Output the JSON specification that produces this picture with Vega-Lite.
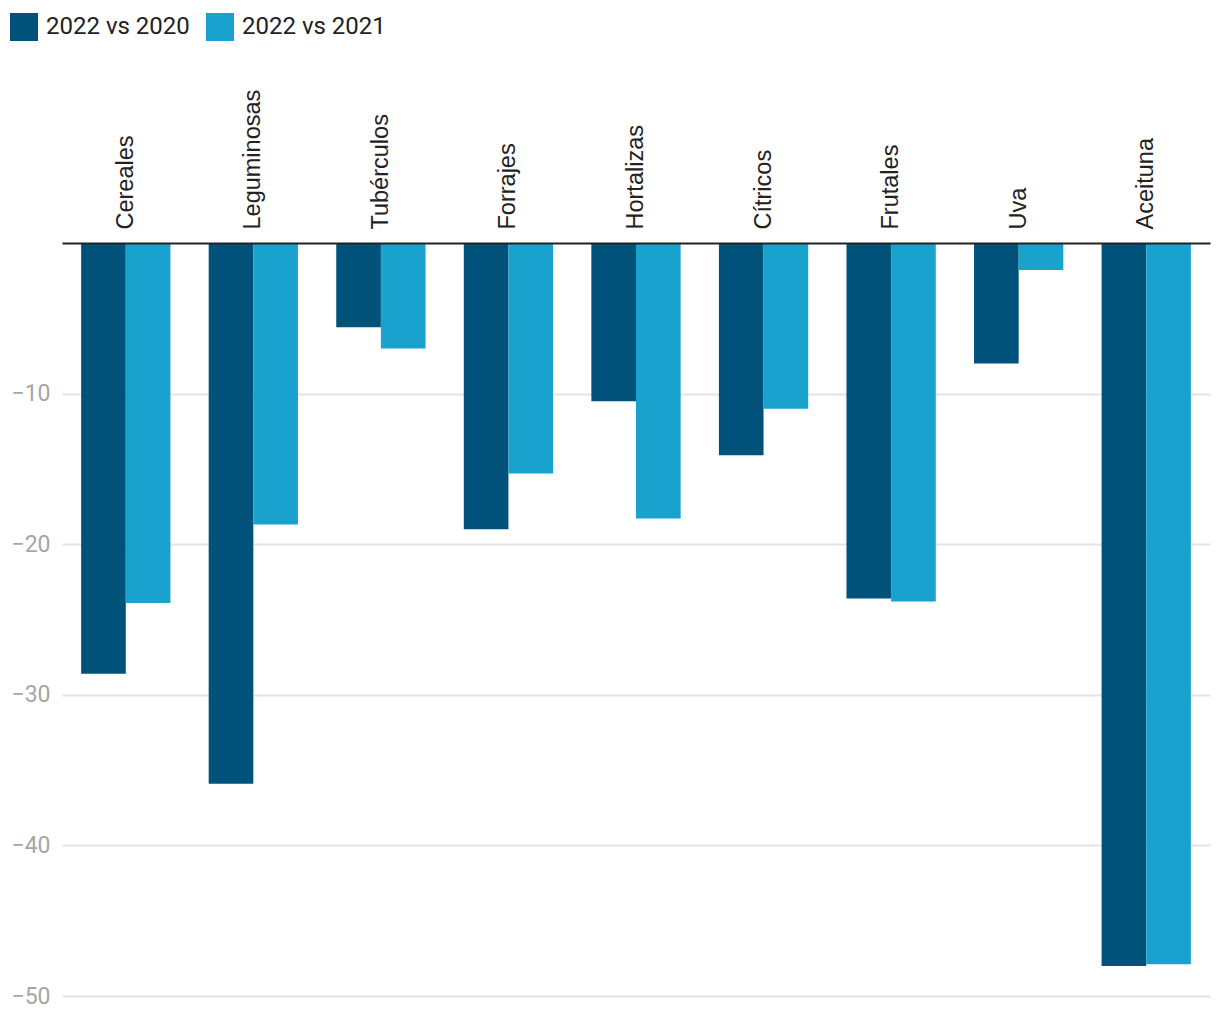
{
  "$schema": "https://vega.github.io/schema/vega-lite/v6.json",
  "width": 1148,
  "height": 753,
  "autosize": "none",
  "padding": {"left": 62, "top": 243, "right": 10, "bottom": 24},
  "background": "white",
  "config": {"view": {"stroke": null}},
  "data": {
    "values": [
      {"cat": "Cereales", "serie": "2022 vs 2020", "v": -28.6},
      {"cat": "Cereales", "serie": "2022 vs 2021", "v": -23.9},
      {"cat": "Leguminosas", "serie": "2022 vs 2020", "v": -35.9},
      {"cat": "Leguminosas", "serie": "2022 vs 2021", "v": -18.7},
      {"cat": "Tubérculos", "serie": "2022 vs 2020", "v": -5.6},
      {"cat": "Tubérculos", "serie": "2022 vs 2021", "v": -7.0},
      {"cat": "Forrajes", "serie": "2022 vs 2020", "v": -19.0},
      {"cat": "Forrajes", "serie": "2022 vs 2021", "v": -15.3},
      {"cat": "Hortalizas", "serie": "2022 vs 2020", "v": -10.5},
      {"cat": "Hortalizas", "serie": "2022 vs 2021", "v": -18.3},
      {"cat": "Cítricos", "serie": "2022 vs 2020", "v": -14.1},
      {"cat": "Cítricos", "serie": "2022 vs 2021", "v": -11.0},
      {"cat": "Frutales", "serie": "2022 vs 2020", "v": -23.6},
      {"cat": "Frutales", "serie": "2022 vs 2021", "v": -23.8},
      {"cat": "Uva", "serie": "2022 vs 2020", "v": -8.0},
      {"cat": "Uva", "serie": "2022 vs 2021", "v": -1.8},
      {"cat": "Aceituna", "serie": "2022 vs 2020", "v": -48.0},
      {"cat": "Aceituna", "serie": "2022 vs 2021", "v": -47.9}
    ]
  },
  "mark": {"type": "bar"},
  "encoding": {
    "x": {
      "field": "cat",
      "type": "nominal",
      "sort": null,
      "scale": {"paddingInner": 0.3, "paddingOuter": 0.15},
      "axis": {
        "orient": "top",
        "title": null,
        "labelAngle": -90,
        "labelFont": "Liberation Sans",
        "labelFontSize": 23.5,
        "labelColor": "#222222",
        "labelPadding": 14,
        "ticks": false,
        "domainColor": "#222222",
        "domainWidth": 2,
        "zindex": 1
      }
    },
    "xOffset": {"field": "serie", "type": "nominal"},
    "y": {
      "field": "v",
      "type": "quantitative",
      "scale": {"domain": [-50, 0], "nice": false},
      "axis": {
        "title": null,
        "values": [-10, -20, -30, -40, -50],
        "labelFont": "Roboto",
        "labelFontSize": 23,
        "labelColor": "#a6a6a6",
        "labelPadding": 12,
        "ticks": false,
        "domain": false,
        "gridColor": "#e3e3e3",
        "gridWidth": 2
      }
    },
    "color": {
      "field": "serie",
      "type": "nominal",
      "scale": {"domain": ["2022 vs 2020", "2022 vs 2021"], "range": ["#00527a", "#19a2cd"]},
      "legend": {
        "title": null,
        "orient": "none",
        "direction": "horizontal",
        "legendX": -52,
        "legendY": -230,
        "symbolType": "square",
        "symbolSize": 784,
        "symbolStrokeWidth": 0,
        "labelFont": "Roboto",
        "labelFontSize": 24,
        "labelColor": "#222222",
        "labelOffset": 8,
        "columnPadding": 16
      }
    }
  }
}
